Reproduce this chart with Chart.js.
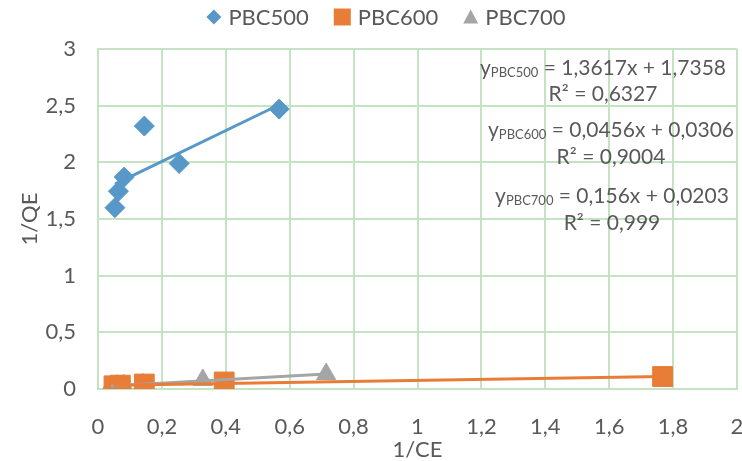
<!DOCTYPE html>
<html>
<head>
<meta charset="utf-8">
<script src="https://cdn.jsdelivr.net/npm/chart.js@4.4.1/dist/chart.umd.min.js"></script>
<style>
  html, body { margin:0; padding:0; background:#fff; }
  #wrap { width:742px; height:461px; }
</style>
</head>
<body>
<div id="wrap"><canvas id="chart" width="742" height="461"></canvas></div>
<script>
// datos
const x500 = [0.053, 0.064, 0.082, 0.145, 0.254, 0.567];
const y500 = [1.60, 1.745, 1.87, 2.32, 1.99, 2.47];
const x600 = [0.05, 0.07, 0.145, 0.395, 1.767];
const y600 = [0.028, 0.034, 0.044, 0.062, 0.11];
const x700 = [0.04, 0.06, 0.08, 0.14, 0.328, 0.714];
const y700 = [0.026, 0.03, 0.033, 0.042, 0.08, 0.132];

// ecuaciones de tendencia (como aparecen en el gráfico)
const fit500 = { m: 1.3617, b: 1.7358, r2: "0,6327", eq: "= 1,3617x + 1,7358", sub: "PBC500" };
const fit600 = { m: 0.0456, b: 0.0306, r2: "0,9004", eq: "= 0,0456x + 0,0306", sub: "PBC600" };
const fit700 = { m: 0.156,  b: 0.0203, r2: "0,999",  eq: "= 0,156x + 0,0203",  sub: "PBC700" };

const series = ["PBC500", "PBC600", "PBC700"];
const xTicks = [0, 0.2, 0.4, 0.6, 0.8, 1, 1.2, 1.4, 1.6, 1.8, 2];
const yTicks = [0, 0.5, 1, 1.5, 2, 2.5, 3];

const BLUE = "#5798c8";
const ORANGE = "#e97c36";
const GRAY = "#a5a5a5";
const TXT = "#595959";
const GRID = "#c5e3c3";
const FONT = "Lato, 'Open Sans', sans-serif";

const pts = (xs, ys) => xs.map((x, i) => ({ x, y: ys[i] }));
function trend(xs, f){
  const lo = Math.min(...xs), hi = Math.max(...xs);
  return [{ x: lo, y: f.m*lo + f.b }, { x: hi, y: f.m*hi + f.b }];
}
const fmt = (v) => String(v).replace(".", ",");

// leyenda arriba (dibujada a mano para copiar el espaciado de Excel)
const legendPlugin = {
  id: "legendTop",
  afterDraw(chart){
    const ctx = chart.ctx;
    const items = [
      { kind: "diamond", color: BLUE, w: 15 },
      { kind: "sq", color: ORANGE, w: 17 },
      { kind: "tri", color: GRAY, w: 15 }
    ];
    const cy = 17, gap = 7, sep = 25;
    ctx.save();
    ctx.font = "22px " + FONT;
    const widths = items.map((it, i) => it.w + gap + ctx.measureText(series[i]).width);
    const total = widths.reduce((s, w) => s + w, 0) + sep * (items.length - 1);
    let x = 386 - total / 2;
    items.forEach((it, i) => {
      const w = it.w;
      ctx.fillStyle = it.color;
      ctx.beginPath();
      if (it.kind === "diamond"){
        ctx.moveTo(x + w/2, cy - w/2); ctx.lineTo(x + w, cy); ctx.lineTo(x + w/2, cy + w/2); ctx.lineTo(x, cy);
      } else if (it.kind === "tri"){
        ctx.moveTo(x + w/2, cy - w/2); ctx.lineTo(x + w, cy + w/2 - 1); ctx.lineTo(x, cy + w/2 - 1);
      } else {
        ctx.rect(x, cy - w/2, w, w);
      }
      ctx.closePath(); ctx.fill();
      ctx.fillStyle = TXT;
      ctx.textAlign = "left";
      ctx.textBaseline = "middle";
      ctx.fillText(series[i], x + w + gap, cy + 1);
      x += widths[i] + sep;
    });
    ctx.restore();
  }
};

// texto de las ecuaciones con subíndice
const eqPlugin = {
  id: "eqs",
  afterDatasetsDraw(chart){
    const ctx = chart.ctx;
    const rows = [
      { f: fit500, cx: 603, y1: 68, y2: 94 },
      { f: fit600, cx: 611, y1: 130, y2: 157 },
      { f: fit700, cx: 612, y1: 196, y2: 223 }
    ];
    ctx.save();
    ctx.fillStyle = TXT;
    ctx.textBaseline = "middle";
    rows.forEach(r => {
      const big = "21px " + FONT, small = "13px " + FONT;
      ctx.font = big; const wy = ctx.measureText("y").width;
      const wEq = ctx.measureText(" " + r.f.eq).width;
      ctx.font = small; const wSub = ctx.measureText(r.f.sub).width;
      let x = r.cx - (wy + wSub + wEq) / 2;
      ctx.textAlign = "left";
      ctx.font = big; ctx.fillText("y", x, r.y1); x += wy;
      ctx.font = small; ctx.fillText(r.f.sub, x, r.y1 + 5); x += wSub;
      ctx.font = big; ctx.fillText(" " + r.f.eq, x, r.y1);
      ctx.textAlign = "center";
      ctx.fillText("R² = " + r.f.r2, r.cx, r.y2);
    });
    ctx.restore();
  }
};

new Chart(document.getElementById("chart"), {
  type: "scatter",
  data: {
    datasets: [
      { label: series[0], data: pts(x500, y500), backgroundColor: BLUE, borderColor: BLUE,
        pointStyle: "rectRot", pointRadius: 10, pointHoverRadius: 10, order: 2 },
      { label: series[1], data: pts(x600, y600), backgroundColor: ORANGE, borderColor: ORANGE,
        pointStyle: "rect", pointRadius: 14, pointHoverRadius: 14, order: 2 },
      { label: series[2], data: pts(x700, y700), backgroundColor: GRAY, borderColor: GRAY,
        pointStyle: "triangle", pointRadius: 11, pointHoverRadius: 11, order: 2 },
      { label: "t500", data: trend(x500, fit500), showLine: true, borderColor: BLUE, borderWidth: 3,
        pointRadius: 0, order: 1 },
      { label: "t600", data: trend(x600, fit600), showLine: true, borderColor: ORANGE, borderWidth: 3,
        pointRadius: 0, order: 1 },
      { label: "t700", data: trend(x700, fit700), showLine: true, borderColor: GRAY, borderWidth: 3,
        pointRadius: 0, order: 1 }
    ]
  },
  options: {
    responsive: false,
    animation: false,
    layout: { autoPadding: false, padding: { left: 0, right: 5, top: 49, bottom: 0 } },
    plugins: {
      legend: { display: false },
      tooltip: { enabled: false }
    },
    scales: {
      x: {
        type: "linear", min: 0, max: 2,
        afterBuildTicks: (ax) => { ax.ticks = xTicks.map(v => ({ value: v })); },
        afterFit: (ax) => { ax.height = 72; ax.paddingLeft = 0; ax.paddingRight = 0; },
        grid: { color: GRID, lineWidth: 2, drawTicks: false },
        border: { color: GRID, width: 2 },
        ticks: { color: TXT, font: { family: FONT, size: 22 }, padding: 25, callback: (v) => fmt(v) },
        title: { display: true, text: "1/CE", color: TXT, font: { family: FONT, size: 22, lineHeight: 1 }, padding: { top: 0, bottom: 0 } }
      },
      y: {
        type: "linear", min: 0, max: 3,
        afterBuildTicks: (ax) => { ax.ticks = yTicks.map(v => ({ value: v })); },
        afterFit: (ax) => { ax.width = 98; ax.paddingTop = 0; ax.paddingBottom = 0; },
        grid: { color: GRID, lineWidth: 2, drawTicks: false },
        border: { color: GRID, width: 2 },
        ticks: { color: TXT, font: { family: FONT, size: 22 }, padding: 22, callback: (v) => fmt(v) },
        title: { display: true, text: "1/QE", color: TXT, font: { family: FONT, size: 22 }, padding: { top: 17, bottom: 0 } }
      }
    }
  },
  plugins: [eqPlugin, legendPlugin]
});
</script>
</body>
</html>
